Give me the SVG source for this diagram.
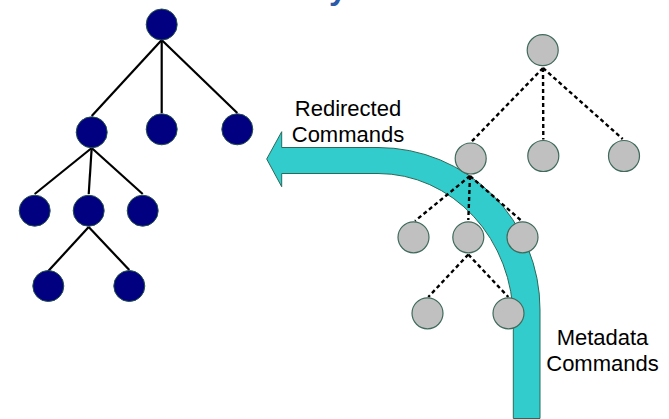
<svg xmlns="http://www.w3.org/2000/svg" width="669" height="419" viewBox="0 0 669 419">
<style>
.nav{fill:#000080;stroke:#24504a;stroke-width:1}
.gry{fill:#C0C0C0;stroke:#3f6b5c;stroke-width:1.2}
.sol{stroke:#000;stroke-width:2.2;fill:none}
.dsh{stroke:#000;stroke-width:2.4;fill:none;stroke-dasharray:4 3}
.lbl{font-family:"Liberation Sans",Arial,sans-serif;font-size:22px;fill:#000;text-anchor:middle}
.ttl{font-family:"Liberation Sans",Arial,sans-serif;font-size:32px;font-weight:bold;fill:#2B5AA8}
</style>
<rect width="669" height="419" fill="#fff"/>
<text class="ttl" x="329" y="-1.5">y</text>
<g id="arrow">
<path d="M540,418.5 L540,310 A162 162 0 0 0 378,147.5 L281.7,147.5 L281.7,131.7 L266.7,159 L281.7,186.7 L281.7,173.5 L378,173.5 A135.3 146.5 0 0 1 513.3,320 L513.3,418.5 Z" fill="#33CCCC" stroke="#2a6a5a" stroke-width="1"/>
</g>
<g id="connectors">
<line class="sol" x1="161.7" y1="40" x2="91.7" y2="116"/>
<line class="sol" x1="161.7" y1="40" x2="161.7" y2="113"/>
<line class="sol" x1="161.7" y1="40" x2="237.3" y2="113"/>
<line class="sol" x1="91.7" y1="148" x2="34.7" y2="194"/>
<line class="sol" x1="91.7" y1="148" x2="88.7" y2="194"/>
<line class="sol" x1="91.7" y1="148" x2="142.7" y2="194"/>
<line class="sol" x1="88.7" y1="227" x2="48.3" y2="271"/>
<line class="sol" x1="88.7" y1="227" x2="129.3" y2="270"/>
<line class="dsh" x1="543" y1="68" x2="470.7" y2="142.5"/>
<line class="dsh" x1="543" y1="68" x2="543.3" y2="139.5"/>
<line class="dsh" x1="543" y1="68" x2="622.7" y2="139"/>
<line class="dsh" x1="470" y1="176" x2="415" y2="221"/>
<line class="dsh" x1="470" y1="176" x2="468.3" y2="220"/>
<line class="dsh" x1="470" y1="176" x2="522.3" y2="221.5"/>
<line class="dsh" x1="468.3" y1="254.5" x2="428.3" y2="297"/>
<line class="dsh" x1="468.3" y1="254.5" x2="508.3" y2="297"/>
</g>
<g id="L-root"><circle class="nav" cx="161.7" cy="24.5" r="15.5"/></g>
<g id="L-a"><circle class="nav" cx="91.7" cy="132.3" r="15.5"/></g>
<g id="L-b"><circle class="nav" cx="161.7" cy="129.3" r="15.5"/></g>
<g id="L-c"><circle class="nav" cx="237.3" cy="129.3" r="15.5"/></g>
<g id="L-a1"><circle class="nav" cx="34.7" cy="210.7" r="15.5"/></g>
<g id="L-a2"><circle class="nav" cx="88.7" cy="210.7" r="15.5"/></g>
<g id="L-a3"><circle class="nav" cx="142.7" cy="210.7" r="15.5"/></g>
<g id="L-a2a"><circle class="nav" cx="48.3" cy="286" r="15.5"/></g>
<g id="L-a2b"><circle class="nav" cx="129.3" cy="286" r="15.5"/></g>
<g id="R-root"><circle class="gry" cx="542.7" cy="50.2" r="15.5"/></g>
<g id="R-a"><circle class="gry" cx="470.7" cy="158.5" r="15.5"/></g>
<g id="R-b"><circle class="gry" cx="543.3" cy="156" r="15.5"/></g>
<g id="R-c"><circle class="gry" cx="624" cy="156" r="15.5"/></g>
<g id="R-a1"><circle class="gry" cx="413.5" cy="237.3" r="15.5"/></g>
<g id="R-a2"><circle class="gry" cx="468.3" cy="237.3" r="15.5"/></g>
<g id="R-a3"><circle class="gry" cx="522.5" cy="237.3" r="15.5"/></g>
<g id="R-a2a"><circle class="gry" cx="427.5" cy="313.3" r="15.5"/></g>
<g id="R-a2b"><circle class="gry" cx="508.5" cy="313.3" r="15.5"/></g>
<g id="labels">
<text class="lbl" x="348" y="115.5">Redirected</text>
<text class="lbl" x="348" y="141.8">Commands</text>
<text class="lbl" x="602.5" y="344.8">Metadata</text>
<text class="lbl" x="602.5" y="371.2">Commands</text>
</g>
</svg>
